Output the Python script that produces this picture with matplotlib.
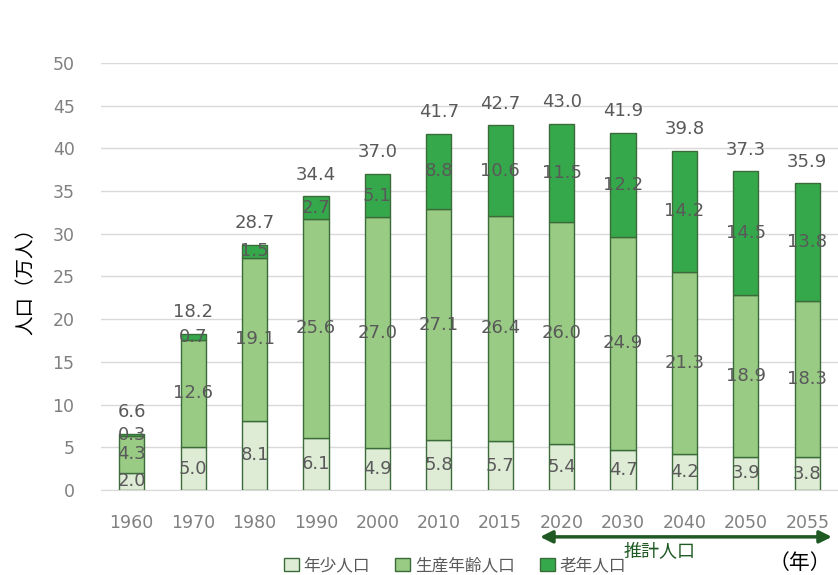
import numpy as np
import matplotlib
matplotlib.use("Agg")
import matplotlib.pyplot as plt
from matplotlib.patches import Patch

plt.rcParams['font.family'] = ['DejaVu Sans', 'Noto Sans CJK JP']
CJK = ['Noto Sans CJK JP', 'DejaVu Sans']

years = ["1960", "1970", "1980", "1990", "2000", "2010", "2015",
         "2020", "2030", "2040", "2050", "2055"]
young = [2.0, 5.0, 8.1, 6.1, 4.9, 5.8, 5.7, 5.4, 4.7, 4.2, 3.9, 3.8]
working = [4.3, 12.6, 19.1, 25.6, 27.0, 27.1, 26.4, 26.0, 24.9, 21.3, 18.9, 18.3]
elderly = [0.3, 0.7, 1.5, 2.7, 5.1, 8.8, 10.6, 11.5, 12.2, 14.2, 14.5, 13.8]
totals = [6.6, 18.2, 28.7, 34.4, 37.0, 41.7, 42.7, 43.0, 41.9, 39.8, 37.3, 35.9]
series_names = ["年少人口", "生産年齢人口", "老年人口"]

colors = ["#deecd6", "#99cb85", "#35a84b"]
edge = "#3b6b38"
label_color = "#595959"

fig = plt.figure(figsize=(8.38, 5.75), dpi=100)
ax = fig.add_axes([0.1205, 0.148, 0.8795, 0.7426])

x = np.arange(len(years))
width = 0.41
bottom = np.zeros(len(years))
for vals, c in zip([young, working, elderly], colors):
    vals = np.array(vals)
    ax.bar(x, vals, width, bottom=bottom, color=c, edgecolor=edge,
           linewidth=1, zorder=3)
    for xi, b, v in zip(x, bottom, vals):
        ax.text(xi, b + v / 2, f"{v:.1f}", ha="center", va="center",
                fontsize=13, color=label_color, zorder=4)
    bottom = bottom + vals

for xi, top, t in zip(x, bottom, totals):
    ax.annotate(f"{t:.1f}", (xi, top), xytext=(0, 9), textcoords="offset points",
                ha="center", va="bottom", fontsize=13, color=label_color)

ax.set_xlim(-0.5, len(years) - 0.5)
ax.set_ylim(0, 50)
ax.set_yticks(range(0, 51, 5))
ax.set_xticks(x)
ax.set_xticklabels(years)
ax.tick_params(axis="both", length=0, labelsize=12.5, labelcolor="#808080")
ax.tick_params(axis="y", pad=19)
ax.tick_params(axis="x", pad=17)
ax.yaxis.grid(True, color="#d9d9d9", linewidth=1, zorder=0)
for s in ["top", "right", "left"]:
    ax.spines[s].set_visible(False)
ax.spines["bottom"].set_color("#d9d9d9")
ax.set_ylabel("人口（万人）", fontsize=14, color="black", labelpad=12)

# projection arrow
trans = ax.get_xaxis_transform()
ax.annotate("", xy=(11.4, -0.11), xytext=(6.65, -0.11), xycoords=trans,
            textcoords=trans, annotation_clip=False,
            arrowprops=dict(arrowstyle="<|-|>", color="#1f5a24", lw=2.5,
                            mutation_scale=18, shrinkA=0, shrinkB=0))
ax.text(8.6, -0.143, "推計人口", transform=trans, ha="center", va="center",
        fontsize=13, color="#1f5a24", family=CJK)
ax.text(10.88, -0.172, "（年）", transform=trans, ha="center", va="center",
        fontsize=15, color="black", family=CJK)

handles = [Patch(facecolor=c, edgecolor=edge, linewidth=1) for c in colors]
fig.legend(handles, series_names, loc="center", bbox_to_anchor=(0.543, 0.016),
           ncol=3, frameon=False, handlelength=0.9,
           handleheight=0.9, handletextpad=0.3, columnspacing=1.5,
           labelcolor="#595959", prop={'family': CJK, 'size': 12})

fig.savefig("out.png", dpi=100)
